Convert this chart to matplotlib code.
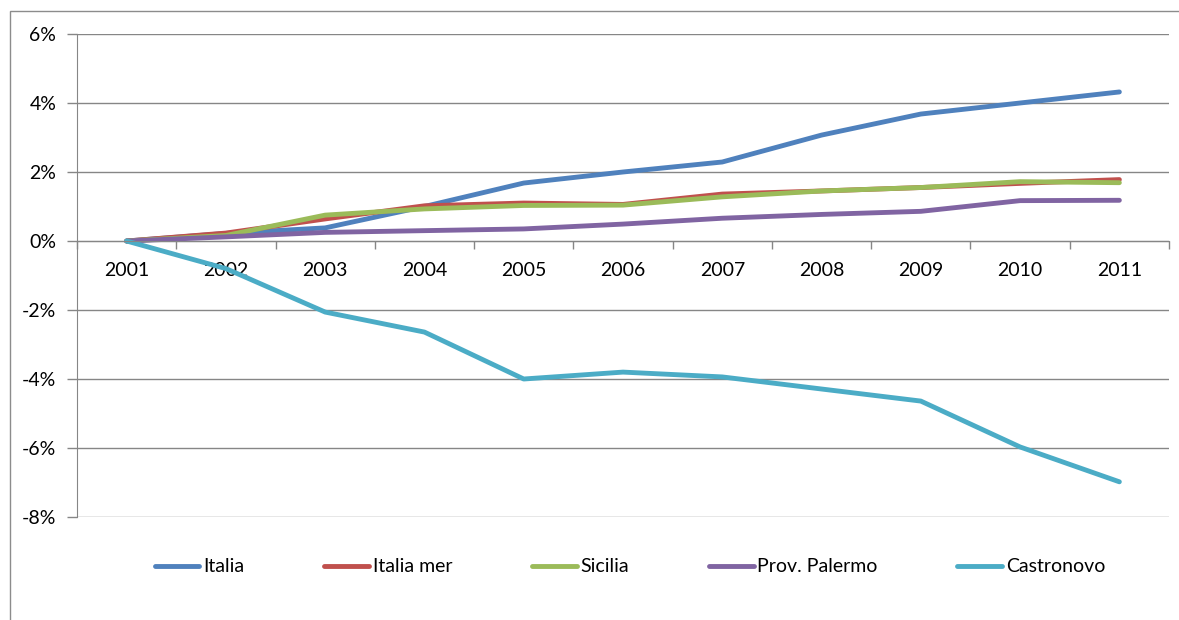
import matplotlib
matplotlib.use("Agg")
import matplotlib.pyplot as plt
from matplotlib.patches import Rectangle
from matplotlib.ticker import FuncFormatter, FixedLocator

plt.rcParams['font.family'] = ['Lato', 'DejaVu Sans']

years = ['2001', '2002', '2003', '2004', '2005', '2006', '2007', '2008', '2009', '2010', '2011']
italia = [0.0, 0.22, 0.38, 1.00, 1.68, 2.00, 2.29, 3.07, 3.68, 4.00, 4.32]
italia_mer = [0.0, 0.23, 0.64, 1.02, 1.10, 1.06, 1.36, 1.45, 1.55, 1.67, 1.78]
sicilia = [0.0, 0.16, 0.75, 0.93, 1.03, 1.04, 1.28, 1.45, 1.55, 1.72, 1.69]
prov_palermo = [0.0, 0.12, 0.25, 0.30, 0.35, 0.49, 0.66, 0.77, 0.86, 1.17, 1.18]
castronovo = [0.0, -0.80, -2.06, -2.64, -4.00, -3.80, -3.94, -4.29, -4.64, -5.97, -6.98]

series = [
    ('Italia', italia, '#4F81BD'),
    ('Italia mer', italia_mer, '#C0504D'),
    ('Sicilia', sicilia, '#9BBB59'),
    ('Prov. Palermo', prov_palermo, '#8064A2'),
    ('Castronovo', castronovo, '#4BACC6'),
]

W, H = 1179, 620
FS = 14
fig = plt.figure(figsize=(W / 100, H / 100), dpi=100)

# chart-area frame
fig.patches.append(Rectangle((10 / W, -0.1), 1.2, 1 - 11 / H + 0.1,
                             transform=fig.transFigure, fill=False,
                             edgecolor='#8C8C8C', linewidth=1.0))

ax = fig.add_axes([77 / W, 1 - 517 / H, (1169 - 77) / W, (517 - 34) / H])

grid_col = '#868686'
x = list(range(len(years)))
for name, vals, col in series:
    ax.plot(x, vals, color=col, linewidth=3.5, solid_capstyle='round',
            solid_joinstyle='round', label=name)

ax.set_xlim(-0.5, len(years) - 0.5)
ax.set_ylim(-8, 6)

# y axis
ax.yaxis.set_major_locator(FixedLocator([-8, -6, -4, -2, 0, 2, 4, 6]))
ax.yaxis.set_major_formatter(FuncFormatter(lambda v, p: f"{int(round(v))}%"))
ax.tick_params(axis='y', direction='out', length=7, width=1, color=grid_col,
               labelsize=FS, pad=8, labelcolor='black')
ax.yaxis.grid(True, color=grid_col, linewidth=1)
ax.set_axisbelow(True)

# x axis crossing at zero, labels centred on categories
ax.spines['bottom'].set_position(('data', 0))
ax.spines['bottom'].set_color(grid_col)
ax.spines['left'].set_color(grid_col)
ax.spines['top'].set_visible(False)
ax.spines['right'].set_visible(False)
ax.set_xticks(x)
ax.set_xticklabels(years)
ax.set_xticks([i - 0.5 for i in range(len(years) + 1)], minor=True)
ax.tick_params(axis='x', which='major', length=0, labelsize=FS, pad=15,
               labelcolor='black')
ax.tick_params(axis='x', which='minor', direction='out', length=6, width=1,
               color=grid_col)

fig.legend(loc='center', bbox_to_anchor=(630 / W, 1 - 567 / H), ncol=5,
           frameon=False, fontsize=FS, handlelength=2.3, handletextpad=0.2,
           columnspacing=4.1)

fig.savefig('out.png', dpi=100, facecolor='white')
